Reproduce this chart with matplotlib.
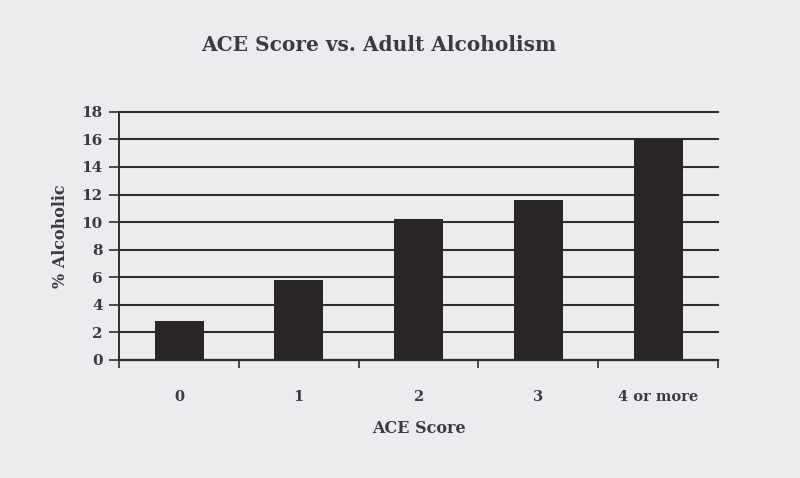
import matplotlib
matplotlib.use("Agg")
import matplotlib.pyplot as plt
import numpy as np

# ACE score categories and percentage of adults who are alcoholic
categories = ["0", "1", "2", "3", "4 or more"]
pct_alcoholic = [2.8, 5.8, 10.2, 11.6, 16.0]
y_ticks = [0, 2, 4, 6, 8, 10, 12, 14, 16, 18]

plt.rcParams["font.family"] = ["DejaVu Serif", "Liberation Serif"]
plt.rcParams["font.weight"] = "bold"

text_color = "#3b3b45"
line_color = "#2e2e30"
paper = "#ecebee"

fig = plt.figure(figsize=(8.0, 4.78), dpi=100, facecolor=paper)
ax = fig.add_axes([0.149, 0.247, 0.7485, 0.519])
ax.set_facecolor(paper)

x = np.arange(len(categories))
ax.bar(x, pct_alcoholic, width=0.41, color="#2a2627", zorder=3)

ax.set_xlim(-0.5, len(categories) - 0.5)
ax.set_ylim(0, 18)
ax.set_yticks(y_ticks)
ax.yaxis.grid(True, color=line_color, linewidth=1.5, zorder=1)
for gl in ax.get_ygridlines():
    gl.set_clip_on(False)
ax.set_axisbelow(True)

# category labels centred, tick marks on the category boundaries
ax.set_xticks(x)
ax.set_xticklabels(categories)
ax.tick_params(axis="x", which="major", length=0, pad=22,
               labelsize=10.5, labelcolor=text_color)
ax.set_xticks(np.arange(-0.5, len(categories), 1.0), minor=True)
ax.tick_params(axis="x", which="minor", length=6, width=1.2,
               color=line_color, direction="out")
ax.tick_params(axis="y", length=7, width=1.2, color=line_color,
               labelsize=11, labelcolor=text_color, pad=5)

for side in ["top", "right"]:
    ax.spines[side].set_visible(False)
ax.spines["left"].set_color(line_color)
ax.spines["left"].set_linewidth(1.4)
ax.spines["bottom"].set_color(line_color)
ax.spines["bottom"].set_linewidth(1.6)

ax.set_xlabel("ACE Score", fontsize=11.5, color=text_color, labelpad=11,
              fontweight="bold")
ax.set_ylabel("% Alcoholic", fontsize=11.5, color=text_color, labelpad=9,
              fontweight="bold")

fig.text(0.474, 0.905, "ACE Score vs. Adult Alcoholism", ha="center",
         va="center", fontsize=14.5, fontweight="bold", color=text_color)

fig.savefig("out.png", dpi=100, facecolor=paper)
